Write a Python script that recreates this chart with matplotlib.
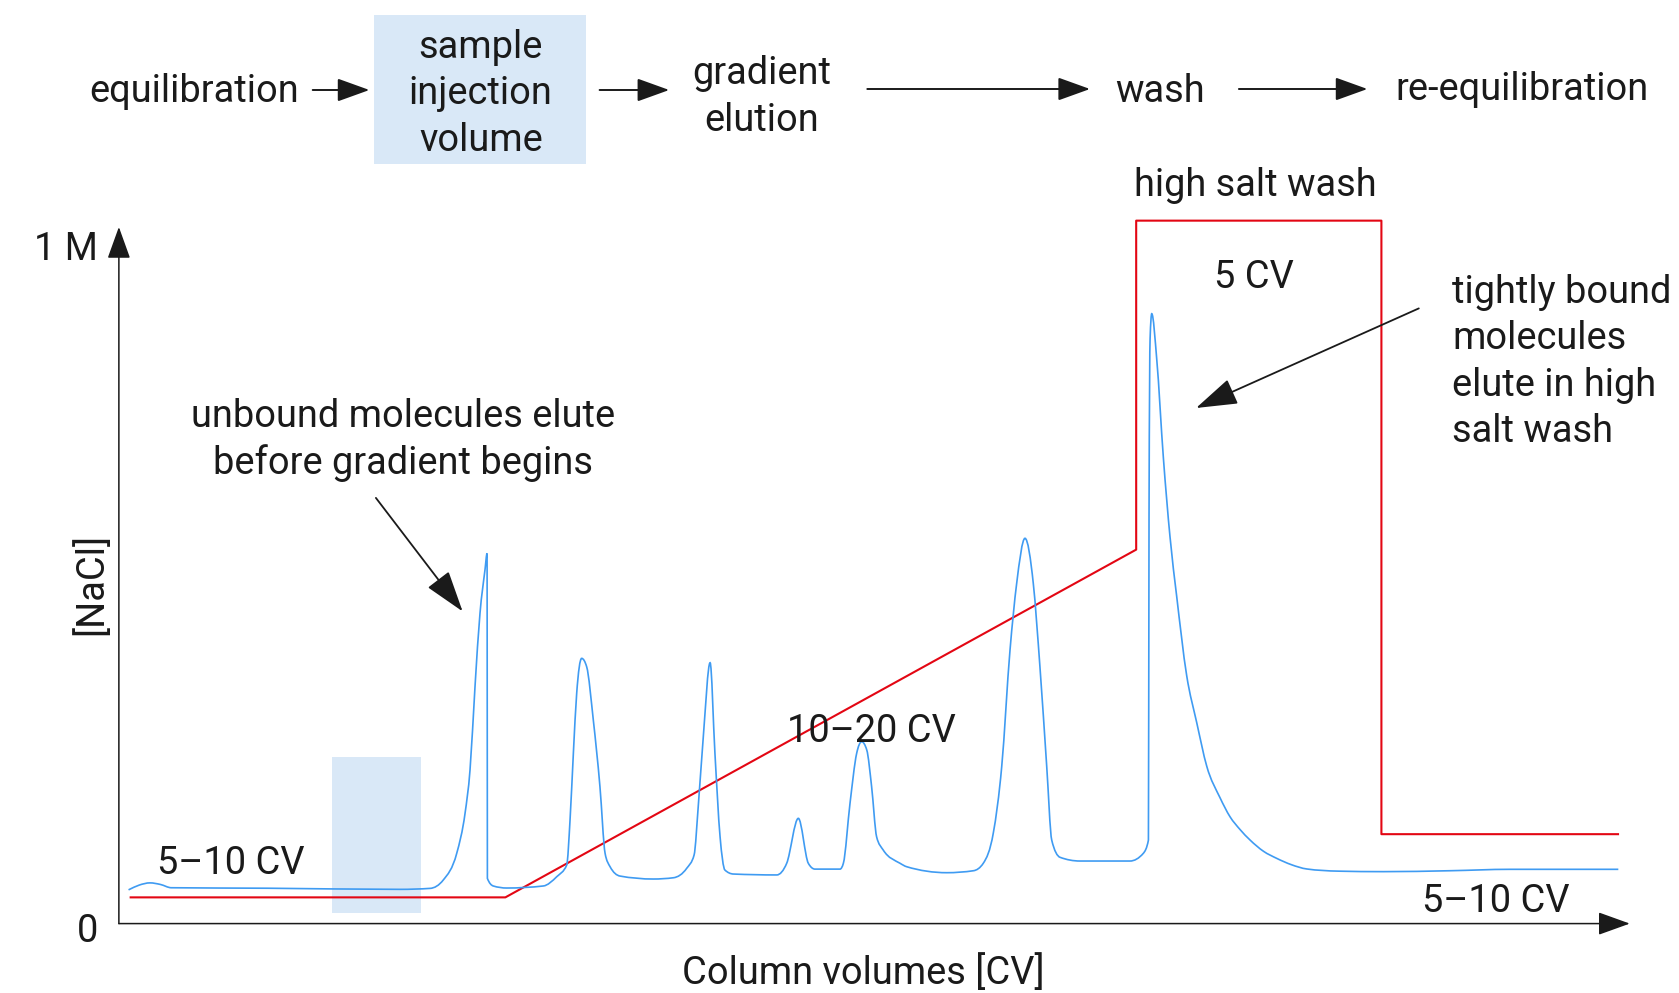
import matplotlib
matplotlib.use("Agg")
import matplotlib.pyplot as plt
from matplotlib.patches import FancyArrowPatch, Rectangle, PathPatch
from matplotlib.path import Path

# ── data (x: % of run length along CV axis, y: % of full [NaCl] scale) ──────
trace_x = [0.64, 1.35, 2.06, 2.76, 3.47, 9.85, 18.61, 20.60, 21.47, 22.36,
           22.91, 23.24, 23.57, 23.90, 24.23, 24.37, 24.39, 24.78, 25.67, 28.09,
           28.98, 29.64, 29.86, 30.08, 30.30, 30.63, 30.96, 31.40, 31.84, 32.18,
           32.51, 33.17, 35.37, 36.70, 37.58, 38.07, 38.36, 38.68, 39.13, 39.45,
           39.79, 40.11, 40.67, 43.54, 44.20, 44.97, 45.63, 46.07, 47.73, 47.95,
           48.39, 48.83, 49.16, 49.50, 49.82, 50.15, 50.59, 51.70, 52.14, 54.79,
           56.56, 57.21, 57.87, 58.43, 58.98, 59.42, 59.97, 60.52, 60.96, 61.41,
           61.74, 62.29, 63.61, 66.92, 67.80, 68.14, 68.18, 68.25, 68.36, 68.69,
           69.13, 69.57, 70.01, 70.67, 71.34, 72.00, 72.88, 73.54, 74.20, 74.87,
           75.76, 76.63, 77.60, 78.62, 80.72, 83.69, 88.10, 92.07, 99.24]
trace_y = [4.80, 5.48, 5.79, 5.56, 5.10, 5.03, 4.87, 5.01, 6.20, 9.99,
           15.67, 21.84, 33.69, 44.13, 50.30, 52.66, 6.43, 5.35, 5.06, 5.35,
           6.67, 8.33, 14.73, 24.22, 32.75, 37.73, 36.54, 28.96, 19.47, 9.99,
           8.09, 6.76, 6.34, 6.52, 7.86, 9.75, 17.11, 26.58, 37.11, 24.22,
           12.35, 7.62, 7.05, 6.92, 8.58, 14.97, 8.58, 7.75, 7.75, 8.58,
           17.11, 24.22, 25.88, 24.69, 19.47, 12.35, 10.46, 8.58, 8.09, 7.24,
           7.52, 8.58, 12.84, 22.32, 38.92, 48.39, 54.81, 48.39, 36.54, 22.32,
           11.88, 9.43, 8.90, 8.90, 9.99, 11.88, 57.84, 83.15, 86.76, 80.30,
           66.25, 55.00, 46.57, 35.32, 28.56, 22.39, 17.90, 15.20, 13.39, 11.88,
           10.28, 9.28, 8.38, 7.77, 7.46, 7.39, 7.52, 7.72, 7.72]

salt_x = [0.78, 25.58, 67.33, 67.33, 83.56, 83.56, 99.22]
salt_y = [3.73, 3.73, 53.2, 100.0, 100.0, 12.72, 12.72]

inject_x = (14.1, 20.0)
inject_y = (1.45, 23.7)

steps = ["equilibration", "sample\ninjection\nvolume", "gradient\nelution",
         "wash", "re-equilibration"]

INK = "#1a1a1a"
BLUE = "#3f9bf2"
RED = "#e30613"
SHADE = "#d9e8f7"
plt.rcParams["font.family"] = ["Roboto", "DejaVu Sans"]
FS = 27.4


def monotone_path(xs, ys):
    """Smooth drawing path through the points (monotone cubic, like d3 curveMonotoneX)."""
    n = len(xs)
    h = [xs[i + 1] - xs[i] for i in range(n - 1)]
    s = [(ys[i + 1] - ys[i]) / h[i] for i in range(n - 1)]
    m = [0.0] * n
    for i in range(1, n - 1):
        if s[i - 1] * s[i] <= 0:
            continue
        p = (s[i - 1] * h[i] + s[i] * h[i - 1]) / (h[i - 1] + h[i])
        sign = 1 if s[i] > 0 else -1
        m[i] = sign * min(abs(s[i - 1]), abs(s[i]), 0.5 * abs(p)) * 2
    m[0] = s[0]; m[-1] = s[-1]
    verts = [(xs[0], ys[0])]
    codes = [Path.MOVETO]
    for i in range(n - 1):
        d = h[i] / 3
        verts += [(xs[i] + d, ys[i] + d * m[i]),
                  (xs[i + 1] - d, ys[i + 1] - d * m[i + 1]),
                  (xs[i + 1], ys[i + 1])]
        codes += [Path.CURVE4] * 3
    return Path(verts, codes)


fig = plt.figure(figsize=(16.79, 9.93), dpi=100)

# chart axes
ax = fig.add_axes([0.0708, 0.0699, 0.8999, 0.7079])
ax.set_xlim(0, 100); ax.set_ylim(0, 100)
ax.axis("off")
ax.add_patch(Rectangle((inject_x[0], inject_y[0]), inject_x[1] - inject_x[0],
                       inject_y[1] - inject_y[0], color=SHADE, lw=0, zorder=1))
ax.add_patch(PathPatch(monotone_path(trace_x, trace_y), fill=False,
                       edgecolor=BLUE, lw=1.2, zorder=3, clip_on=False))
ax.plot(salt_x, salt_y, color=RED, lw=1.5, zorder=2, clip_on=False)


def arrow(a, p0, p1, lw=1.2, hl=1.0, hw=0.36):
    a.add_patch(FancyArrowPatch(p0, p1, arrowstyle=f"-|>,head_length={hl},head_width={hw}",
                                mutation_scale=20, lw=lw, color=INK,
                                shrinkA=0, shrinkB=0, clip_on=False, zorder=5))


arrow(ax, (0, 0), (100, 0), lw=1.1)
arrow(ax, (0, 0), (0, 99.1), lw=1.1)

# overlay in pixel space for the labels and the step diagram
ov = fig.add_axes([0, 0, 1, 1], facecolor="none")
ov.set_xlim(0, 1679); ov.set_ylim(993, 0)
ov.axis("off")

ov.add_patch(Rectangle((373.7, 15), 212, 148.8, color=SHADE, lw=0, zorder=0))
kw = dict(fontsize=FS, color=INK, ha="center", va="center", linespacing=1.33)
ov.text(193.8, 92, steps[0], **kw)
ov.text(480.8, 94, steps[1], **kw)
ov.text(761.3, 97, steps[2], **kw)
ov.text(1159.7, 92, steps[3], **kw)
ov.text(1522.2, 90, steps[4], **kw)
arrow(ov, (312.7, 90), (369.4, 90), lw=1.4)
arrow(ov, (599.6, 90), (669.2, 90), lw=1.4)
arrow(ov, (867.3, 89), (1090, 89), lw=1.4)
arrow(ov, (1238.9, 89), (1367.4, 89), lw=1.4)

ov.text(1255, 185, "high salt wash", **kw)
ov.text(1253.9, 278, "5 CV", **kw)
ov.text(1452, 362, "tightly bound\nmolecules\nelute in high\nsalt wash",
        fontsize=FS, color=INK, ha="left", va="center", linespacing=1.33)
arrow(ov, (1418.8, 308.4), (1196.1, 408), lw=1.3, hl=1.3, hw=0.42)
ov.text(402.6, 440, "unbound molecules elute\nbefore gradient begins", **kw)
arrow(ov, (375.9, 497.9), (462.6, 611.4), lw=1.3, hl=1.3, hw=0.42)
ov.text(871.6, 731, "10\u201320 CV", **kw)
ov.text(231.3, 864, "5\u201310 CV", **kw)
ov.text(1496, 901, "5\u201310 CV", **kw)

ov.text(66.4, 249, "1 M", **kw)
ov.text(87.8, 931, "0", **kw)
ov.text(91, 584, "[NaCl]", rotation=90, **kw)
ov.text(863, 973, "Column volumes [CV]", **kw)

fig.savefig("out.png", dpi=100)
